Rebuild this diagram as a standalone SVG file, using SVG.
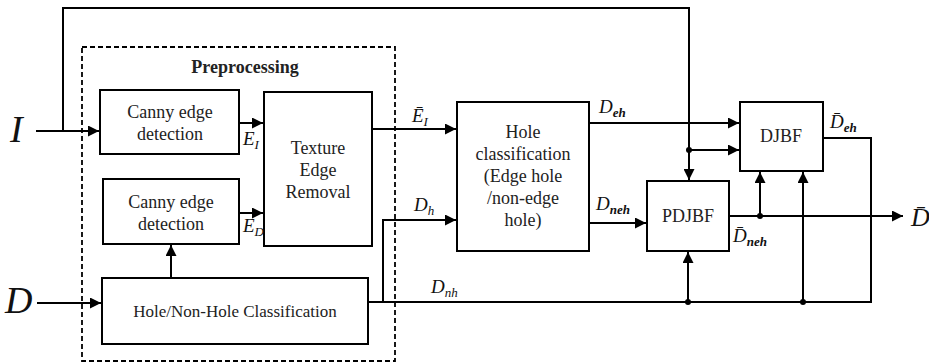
<svg xmlns="http://www.w3.org/2000/svg" width="929" height="363" viewBox="0 0 929 363">
<style>
.box{fill:#fff;stroke:#000;stroke-width:2}
.t{font-family:'Liberation Serif','Times New Roman',serif;font-size:18px;fill:#222;text-anchor:middle}
.m{font-family:'Liberation Serif','Times New Roman',serif;font-style:italic;font-size:19px;fill:#111}
.big{font-size:38px}
.out{font-size:26px}
.s{font-size:13px}
.sb{font-size:13px;font-weight:bold}
.ln{fill:none;stroke:#000;stroke-width:2}
</style>
<defs>
<marker id="ar" viewBox="0 0 10 10" refX="10" refY="5" markerWidth="5.5" markerHeight="5.5" orient="auto" markerUnits="strokeWidth">
<path d="M0,0 L10,5 L0,10 z" fill="#000"/>
</marker>
</defs>
<rect width="929" height="363" fill="#fff"/>

<g id="preprocessing">
<rect x="82" y="47" width="313" height="314" fill="none" stroke="#000" stroke-width="1.8" stroke-dasharray="5,3"/>
<text x="245" y="73" class="t" style="font-weight:bold">Preprocessing</text>
</g>

<g id="canny1">
<rect class="box" x="100" y="90" width="139" height="64"/>
<text class="t" x="170" y="118">Canny edge</text>
<text class="t" x="170" y="140">detection</text>
</g>
<g id="canny2">
<rect class="box" x="103" y="179" width="136" height="65"/>
<text class="t" x="171" y="208">Canny edge</text>
<text class="t" x="171" y="230">detection</text>
</g>
<g id="texture">
<rect class="box" x="264" y="92" width="108" height="154"/>
<text class="t" x="318" y="154">Texture</text>
<text class="t" x="318" y="176">Edge</text>
<text class="t" x="318" y="198">Removal</text>
</g>
<g id="holenonhole">
<rect class="box" x="102" y="278" width="266" height="66"/>
<text class="t" x="235" y="317" style="font-size:17px">Hole/Non-Hole Classification</text>
</g>
<g id="holeclass">
<rect class="box" x="457" y="102" width="132" height="149"/>
<text class="t" x="523" y="138">Hole</text>
<text class="t" x="523" y="160">classification</text>
<text class="t" x="523" y="182">(Edge hole</text>
<text class="t" x="523" y="204">/non-edge</text>
<text class="t" x="523" y="226">hole)</text>
</g>
<g id="pdjbf">
<rect class="box" x="647" y="181" width="82" height="70"/>
<text class="t" x="688" y="222">PDJBF</text>
</g>
<g id="djbf">
<rect class="box" x="740" y="102" width="83" height="69"/>
<text class="t" x="781" y="142">DJBF</text>
</g>

<g id="connectors">
<path class="ln" d="M36,131 H99" marker-end="url(#ar)"/>
<path class="ln" d="M63,131 V8 H689 V180" marker-end="url(#ar)"/>
<path class="ln" d="M239,123 H263" marker-end="url(#ar)"/>
<path class="ln" d="M239,213 H263" marker-end="url(#ar)"/>
<path class="ln" d="M171,278 V245" marker-end="url(#ar)"/>
<path class="ln" d="M37,303 H101" marker-end="url(#ar)"/>
<path class="ln" d="M372,129 H456" marker-end="url(#ar)"/>
<path class="ln" d="M368,302 H871 V138 H823"/>
<path class="ln" d="M383,302 V220 H456" marker-end="url(#ar)"/>
<path class="ln" d="M589,123 H739" marker-end="url(#ar)"/>
<path class="ln" d="M689,150 H739" marker-end="url(#ar)"/>
<path class="ln" d="M589,223 H646" marker-end="url(#ar)"/>
<path class="ln" d="M729,216 H903" marker-end="url(#ar)"/>
<path class="ln" d="M760,216 V172" marker-end="url(#ar)"/>
<path class="ln" d="M688,302 V252" marker-end="url(#ar)"/>
<path class="ln" d="M803,302 V172" marker-end="url(#ar)"/>
<circle cx="689" cy="150" r="3"/>
<circle cx="760" cy="216" r="3"/>
<circle cx="688" cy="302" r="3"/>
<circle cx="803" cy="302" r="3"/>
</g>

<g id="labels">
<text class="m big" x="10" y="142">I</text>
<text class="m big" x="5" y="313">D</text>
<text class="m" x="243" y="145">E<tspan class="s" dy="4">I</tspan></text>
<text class="m" x="243" y="232">E<tspan class="s" dy="4">D</tspan></text>
<text class="m" x="412" y="122">Ē<tspan class="s" dy="4">I</tspan></text>
<text class="m" x="414" y="211">D<tspan class="s" dy="4">h</tspan></text>
<text class="m" x="431" y="293">D<tspan class="s" dy="4">nh</tspan></text>
<text class="m" x="599" y="113">D<tspan class="sb" dy="4">eh</tspan></text>
<text class="m" x="596" y="210">D<tspan class="sb" dy="4">neh</tspan></text>
<text class="m" x="733" y="242">D̄<tspan class="sb" dy="4">neh</tspan></text>
<text class="m" x="830" y="128">D̄<tspan class="sb" dy="4">eh</tspan></text>
<text class="m out" x="911" y="226">D̄</text>
</g>
</svg>
